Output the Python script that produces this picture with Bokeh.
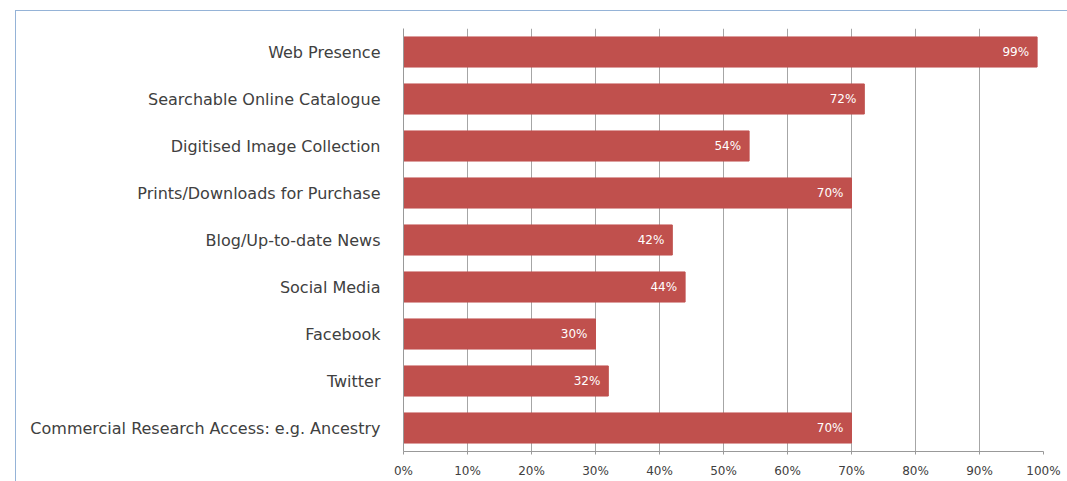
from bokeh.plotting import figure
from bokeh.models import FactorRange, Range1d, FixedTicker, NumeralTickFormatter, ColumnDataSource
from bokeh.core.properties import value
from bokeh.embed import file_html
from bokeh.resources import INLINE

categories = [
    "Web Presence",
    "Searchable Online Catalogue",
    "Digitised Image Collection",
    "Prints/Downloads for Purchase",
    "Blog/Up-to-date News",
    "Social Media",
    "Facebook",
    "Twitter",
    "Commercial Research Access: e.g. Ancestry",
]
percent_values = [99, 72, 54, 70, 42, 44, 30, 32, 70]
x_ticks = [0, 10, 20, 30, 40, 50, 60, 70, 80, 90, 100]

src = ColumnDataSource(dict(
    cat=categories,
    val=[v / 100 for v in percent_values],
    lab=[f"{v}%" for v in percent_values],
))

FONT = "DejaVu Sans"
TXT = "#404040"
BLUE = "#95B3D7"

p = figure(
    width=1067, height=481,
    y_range=FactorRange(factors=list(reversed(categories)), range_padding=0),
    x_range=Range1d(0, 1),
    output_backend="svg", toolbar_location=None,
    min_border_left=403, min_border_right=24, min_border_top=28, min_border_bottom=30,
)
p.outline_line_color = None
p.background_fill_color = "white"
p.border_fill_color = None
p.styles = {
    "background-color": "white",
    "background-image": f"linear-gradient({BLUE},{BLUE}), linear-gradient({BLUE},{BLUE})",
    "background-size": "1px 480px, 1060px 1px",
    "background-position": "15px 10px, 15px 10px",
    "background-repeat": "no-repeat",
}

p.hbar(y="cat", right="val", left=0, height=0.64, source=src,
       fill_color="#C0504D", line_color="#C0504D")

p.text(x="val", y="cat", text="lab", source=src, x_offset=-8,
       text_align="right", text_baseline="middle",
       text_color="white", text_font=value(FONT), text_font_size="12px")

# x axis
p.xaxis.ticker = FixedTicker(ticks=[t / 100 for t in x_ticks])
p.xaxis.formatter = NumeralTickFormatter(format="0%")
p.xaxis.major_label_text_font = FONT
p.xaxis.major_label_text_font_size = "12px"
p.xaxis.major_label_text_color = TXT
p.xaxis.axis_line_color = "#999999"
p.xaxis.major_tick_line_color = "#999999"
p.xaxis.major_tick_out = 3
p.xaxis.major_tick_in = 0
p.xaxis.minor_tick_line_color = None
p.xaxis.major_label_standoff = 9

# y axis
p.yaxis.major_label_text_font = FONT
p.yaxis.major_label_text_font_size = "16px"
p.yaxis.major_label_text_color = TXT
p.yaxis.axis_line_color = "#999999"
p.yaxis.major_tick_line_color = None
p.yaxis.major_label_standoff = 17

p.xgrid.grid_line_color = "#A6A6A6"
p.ygrid.grid_line_color = None

open("out.html", "w").write(file_html(p, INLINE))
